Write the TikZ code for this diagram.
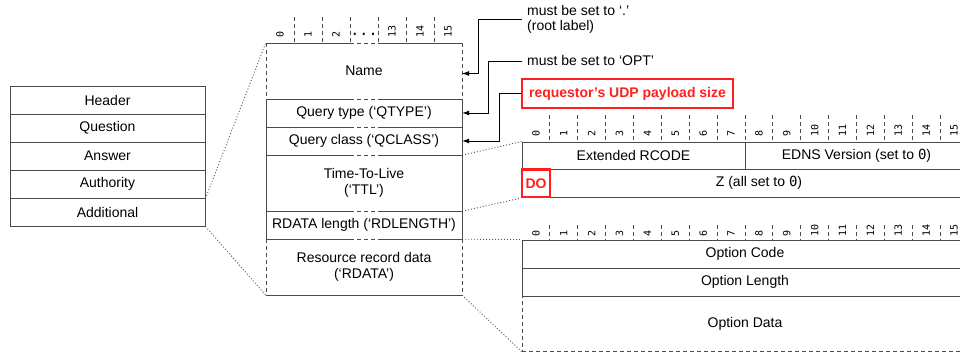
\documentclass[tikz,border=0pt]{standalone}
\usepackage{fontspec}
\setmainfont{Liberation Sans}
\newfontfamily\bitfont{DejaVu Sans Mono}
\usetikzlibrary{arrows.meta}

\definecolor{rulegray}{HTML}{4A4A4A}
\definecolor{alertred}{HTML}{FF1F1F}
\definecolor{dotgray}{HTML}{5A5A5A}

\tikzset{
  txt/.style={font=\fontsize{14}{15.5}\selectfont, align=center, inner sep=0pt},
  cell/.style={txt, draw=rulegray, line width=0.9pt},
  leftcell/.style={cell, minimum width=195pt, minimum height=28pt},
  mid/.style={txt, minimum width=196pt},
  box/.style={rulegray, line width=0.9pt},
  dashseg/.style={box, dash pattern=on 4pt off 3pt},
  tick/.style={rulegray, line width=0.8pt, dash pattern=on 4pt off 3pt},
  bitlbl/.style={font=\bitfont\fontsize{10}{10}\selectfont, rotate=90, anchor=west, inner sep=0pt},
  zoomline/.style={dotgray, line width=0.9pt, dash pattern=on 1pt off 2pt},
  arr/.style={black, line width=0.9pt, -{Latex[length=7pt,width=5pt]}},
  note/.style={txt, align=left, anchor=west, inner xsep=5pt, inner ysep=0pt},
  alertbox/.style={draw=alertred, line width=2.2pt, text=alertred, inner sep=0pt,
    font=\bfseries\fontsize{14}{16}\selectfont},
}

\begin{document}
\begin{tikzpicture}[x=1pt, y=-1pt]
\useasboundingbox (0,0) rectangle (960,352);
\clip (0,0) rectangle (960,352);

% DNS message sections
\node[leftcell] (hdr)  at (107.5,100) {Header};
\node[leftcell] (qst)  at (107.5,128) {Question};
\node[leftcell] (ans)  at (107.5,156) {Answer};
\node[leftcell] (auth) at (107.5,184) {Authority};
\node[leftcell] (addl) at (107.5,212) {Additional};

% resource record layout
\node[mid, minimum height=56pt] (name)   at (364,71)  {Name};
\node[mid, minimum height=28pt] (qtype)  at (364,113) {Query type (‘QTYPE’)};
\node[mid, minimum height=28pt] (qclass) at (364,141) {Query class (‘QCLASS’)};
\node[mid, minimum height=56pt] (ttl)    at (364,183) {Time-To-Live\\(‘TTL’)};
\node[mid, minimum height=28pt] (rdlen)  at (364,225) {RDATA length (‘RDLENGTH’)};
\node[mid, minimum height=56pt] (rdata)  at (364,267) {Resource record data\\(‘RDATA’)};

% record borders: the elided column is dashed, variable-length fields have dashed sides
\foreach \y in {43,99,127,155,211,239} {
  \draw[box] (266,\y) -- (350,\y) (378,\y) -- (462,\y);
  \draw[dashseg] (350,\y) -- (378,\y);
}
\draw[box] (266,295) -- (462,295);
\draw[dashseg] (266,43) -- (266,99) (462,43) -- (462,99)
               (266,239) -- (266,295) (462,239) -- (462,295);
\draw[box] (266,99) -- (266,239) (462,99) -- (462,239);

% bit ruler over the record
\foreach \x in {294,322,350,378,406,434} \draw[tick] (\x,17) -- (\x,43);
\foreach \x/\b in {280/0,308/1,336/2,392/13,420/14,448/15}
  \node[bitlbl] (mbit\b) at (\x,38) {\b};
\node[font=\bitfont\fontsize{15}{15}\selectfont, anchor=base, inner sep=0pt] (mdots) at (364,35.5) {...};

% annotations
\node[note] (n1) at (522,19.5) {must be set to ‘.’\\(root label)};
\node[note] (n2) at (522,61) {must be set to ‘OPT’};
\node[alertbox, minimum width=211pt, minimum height=29pt] (udp) at (627.5,93.5) {requestor’s UDP payload size};

\coordinate (nameIn) at (462,73.5);
\coordinate (k1) at (478,73.5);
\coordinate (k2) at (488,113);
\coordinate (k3) at (499,141);
\draw[arr] (n1.west) -| (k1) -- (nameIn);
\draw[arr] (n2.west) -| (k2) -- (qtype.east);
\draw[arr] (udp.west) -| (k3) -- (qclass.east);

% TTL field breakdown
\def\cw{27.875}
\foreach \i in {1,...,16} \draw[tick] ({522+\cw*\i},115) -- ({522+\cw*\i},142);
\foreach \i in {0,...,15} \node[bitlbl] (tbit\i) at ({522+\cw*(\i+0.5)},137) {\i};
\node[cell, minimum width=223pt, minimum height=27.5pt] (rcode) at (633.5,155.75) {Extended RCODE};
\node[cell, minimum width=223pt, minimum height=27.5pt] (edns)  at (856.5,155.75) {EDNS Version (set to {\bitfont 0})};
\node[cell, minimum width=418pt, minimum height=27.5pt] (zflags) at (759,183.25) {Z (all set to {\bitfont 0})};
\node[alertbox, minimum width=28pt, minimum height=27.5pt] (do) at (536,183.25) {DO};

% RDATA option breakdown
\foreach \i in {1,...,16} \draw[tick] ({522+\cw*\i},225) -- ({522+\cw*\i},240);
\foreach \i in {0,...,15} \node[bitlbl] (bbit\i) at ({522+\cw*(\i+0.5)},237) {\i};
\node[cell, minimum width=446pt, minimum height=28pt] (ocode) at (745,254) {Option Code};
\node[cell, minimum width=446pt, minimum height=28pt] (olen)  at (745,282) {Option Length};
\node[cell, dash pattern=on 4pt off 3pt, minimum width=446pt, minimum height=55pt] (odata) at (745,323.5) {Option Data};

% zoom guides
\draw[zoomline] (auth.south east) -- (name.north west);
\draw[zoomline] (addl.south east) -- (rdata.south west);
\draw[zoomline] (qclass.south east) -- (rcode.north west);
\draw[zoomline] (ttl.south east) -- (do.south west);
\draw[zoomline] (rdlen.south east) -- (ocode.north west);
\draw[zoomline] (rdata.south east) -- (odata.south west);
\end{tikzpicture}
\end{document}
